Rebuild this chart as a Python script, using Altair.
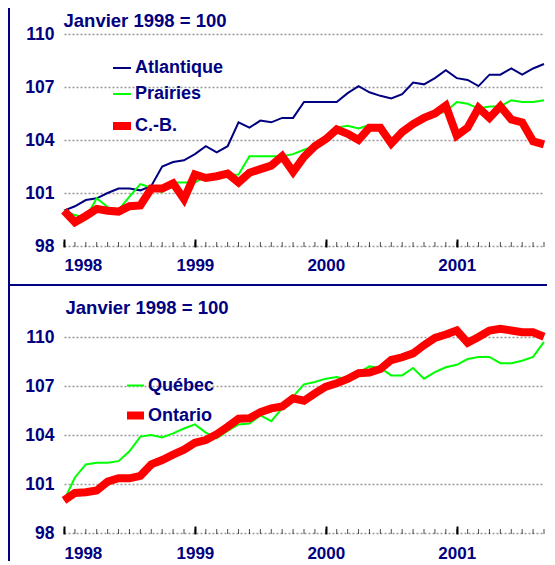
import altair as alt
import pandas as pd

# ---------------- data ----------------
months = list(range(45))          # Jan 1998 .. Sep 2001
year_months = [0, 12, 24, 36]
year_labels = ["1998", "1999", "2000", "2001"]
y_ticks = [98, 101, 104, 107, 110]
title_text = "Janvier 1998 = 100"

top_series = ["Atlantique", "Prairies", "C.-B."]
bottom_series = ["Québec", "Ontario"]

atlantique = [100.0, 100.25, 100.6, 100.7, 101.0, 101.25, 101.25, 101.15, 101.4, 102.5,
              102.75, 102.85, 103.2, 103.65, 103.3, 103.65, 105.0, 104.7, 105.1, 105.0,
              105.25, 105.25, 106.15, 106.15, 106.15, 106.15, 106.65, 107.05, 106.7, 106.5,
              106.35, 106.6, 107.25, 107.15, 107.5, 107.95, 107.5, 107.4, 107.05, 107.7,
              107.7, 108.05, 107.7, 108.05, 108.3]
prairies = [100.0, 99.75, 99.6, 100.7, 100.2, 100.05, 100.8, 101.5, 101.3, 101.05,
            101.6, 101.6, 101.6, 101.95, 102.0, 102.0, 102.05, 103.08, 103.08, 103.08,
            103.08, 103.2, 103.45, 103.65, 104.1, 104.7, 104.8, 104.65, 104.85, 104.7,
            103.9, 104.45, 104.9, 105.2, 105.45, 105.6, 106.15, 106.05, 105.78, 105.9,
            105.9, 106.25, 106.15, 106.15, 106.25]
cb = [100.0, 99.35, 99.7, 100.1, 100.0, 99.95, 100.25, 100.3, 101.25, 101.25,
      101.55, 100.65, 102.05, 101.85, 101.95, 102.1, 101.6, 102.15, 102.35, 102.55,
      103.08, 102.2, 103.05, 103.65, 104.05, 104.6, 104.35, 104.0, 104.7, 104.7,
      103.8, 104.45, 104.9, 105.25, 105.5, 105.95, 104.25, 104.7, 105.82, 105.25,
      105.91, 105.16, 105.0, 103.93, 103.75]
quebec = [100.0, 101.4, 102.2, 102.3, 102.3, 102.4, 103.0, 103.9, 104.0, 103.85,
          104.1, 104.4, 104.65, 104.15, 103.8, 104.25, 104.65, 104.7, 105.2, 104.85,
          105.65, 106.35, 107.1, 107.25, 107.45, 107.55, 107.4, 107.8, 108.2, 108.1,
          107.65, 107.65, 108.1, 107.45, 107.85, 108.15, 108.3, 108.65, 108.78, 108.78,
          108.4, 108.4, 108.55, 108.78, 109.7]
ontario = [100.0, 100.45, 100.5, 100.6, 101.15, 101.35, 101.35, 101.5, 102.2, 102.47,
           102.8, 103.1, 103.52, 103.69, 104.05, 104.51, 105.0, 105.02, 105.4, 105.63,
           105.75, 106.25, 106.1, 106.55, 106.96, 107.17, 107.43, 107.78, 107.82, 108.04,
           108.59, 108.76, 109.0, 109.5, 109.95, 110.15, 110.4, 109.65, 110.0, 110.4,
           110.5, 110.4, 110.29, 110.29, 110.02]


def long_df(names, series_values):
    rows = []
    for name, vals in zip(names, series_values):
        for m, v in zip(months, vals):
            rows.append({"month": m, "value": v, "series": name})
    return pd.DataFrame(rows)


top_df = long_df(top_series, [atlantique, prairies, cb])
bottom_df = long_df(bottom_series, [quebec, ontario])
tick_df = pd.DataFrame({"month": months})
frame_df = pd.DataFrame({"k": [0]})

# ---------------- styles ----------------
NAVY = "#000080"
FONT = "Liberation Sans"
top_colors = [NAVY, "#00ff00", "#ff0000"]
top_widths = [2, 2, 8]
bottom_colors = ["#00ff00", "#ff0000"]
bottom_widths = [2, 8]

W = 480
H = 499
TOP_H = 212
BOT_TOP = 303

label_expr = "{" + ",".join(f"'{m}':'{y}'" for m, y in zip(year_months, year_labels)) + "}[datum.value]"


def panel(df, names, colors, widths, yrange, x_offset, x_pad, title_x, title_y,
          leg_x, leg_y, sym_size, row_pad):
    legend = alt.Legend(
        title=None, orient="none", legendX=leg_x, legendY=leg_y,
        symbolType="stroke", symbolSize=sym_size, labelFontSize=18, labelFontWeight="bold",
        labelColor=NAVY, labelFont=FONT, labelOffset=0, rowPadding=row_pad, padding=0,
        labelLimit=300,
    )
    x_scale = alt.Scale(domain=[months[0], months[-1]], nice=False, zero=False)
    x_axis = alt.Axis(
        orient="bottom", offset=x_offset, values=year_months, labelExpr=label_expr,
        tickSize=8, tickColor="black", tickWidth=2, domain=False, grid=False,
        labelPadding=x_pad, labelFontSize=17, labelFontWeight="bold", labelColor=NAVY,
        labelFont=FONT, title=None,
    )
    y_scale = alt.Scale(domain=[y_ticks[0], y_ticks[-1]], range=yrange, nice=False, zero=False)
    y_axis = alt.Axis(
        orient="left", values=y_ticks, grid=True, gridColor="#9a9a9a", gridDash=[2, 2],
        gridWidth=1.5, domain=False, ticks=False, labelPadding=10, labelFontSize=17.5,
        labelFontWeight="bold", labelColor=NAVY, labelFont=FONT,
        title=title_text, titleAngle=0, titleAlign="left", titleBaseline="alphabetic",
        titleX=title_x, titleY=title_y, titleFontSize=18.5, titleFontWeight="bold",
        titleColor=NAVY, titleFont=FONT,
    )
    x = alt.X("month:Q", scale=x_scale, axis=x_axis)
    y = alt.Y("value:Q", scale=y_scale, axis=y_axis)
    color = alt.Color("series:N", scale=alt.Scale(domain=names, range=colors), legend=legend)
    sw = alt.StrokeWidth("series:N", scale=alt.Scale(type="ordinal", domain=names, range=widths),
                         legend=legend)
    lines = [
        alt.Chart(df).transform_filter(alt.datum.series == n).mark_line().encode(
            x=x, y=y, color=color, strokeWidth=sw
        )
        for n in names
    ]
    ticks = alt.Chart(tick_df).mark_tick(
        orient="vertical", size=5, thickness=1, yOffset=-1.5, color="black"
    ).encode(x=x, y=alt.Y(datum=y_ticks[0], scale=y_scale, axis=y_axis))
    return alt.layer(*lines, ticks)


top = panel(top_df, top_series, top_colors, top_widths, [TOP_H, 0],
            TOP_H - 7 - H, 10, -1, -8, 45, 24, 324, 7)
bottom = panel(bottom_df, bottom_series, bottom_colors, bottom_widths, [H, BOT_TOP],
               -7, 11, 1, 279, 59, 342, 289, 4)

frame_v = alt.Chart(frame_df).mark_rule(color=NAVY, strokeWidth=2).encode(
    x=alt.value(-55), y=alt.value(-30), y2=alt.value(H + 40)
)
frame_h = alt.Chart(frame_df).mark_rule(color=NAVY, strokeWidth=2).encode(
    x=alt.value(-55), x2=alt.value(W + 10), y=alt.value(251)
)

chart = (
    alt.layer(top, bottom, frame_v, frame_h)
    .resolve_scale(x="independent", y="independent", color="independent", strokeWidth="independent")
    .resolve_axis(x="independent", y="independent")
    .resolve_legend(color="independent", strokeWidth="independent")
    .properties(
        width=W, height=H,
        autosize=alt.AutoSizeParams(type="none"),
        padding={"left": 56, "top": 26, "right": 3, "bottom": 28},
    )
    .configure_view(stroke="transparent")
)

chart.save("out.html", embed_options={"renderer": "svg", "actions": False})
